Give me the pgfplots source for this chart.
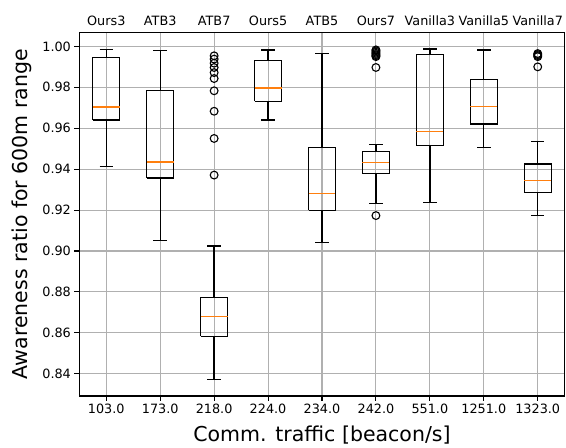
\documentclass[border=0pt]{standalone}
\usepackage{pgfplots}
\pgfplotsset{compat=1.18}
\usepackage{fontspec}
\setmainfont{DejaVu Sans}
\definecolor{mplorange}{RGB}{255,127,14}
\definecolor{gridgray}{RGB}{176,176,176}
\pgfplotsset{
  boxline/.style={black, solid, line width=1.3pt, mark=none, line join=miter},
  medline/.style={mplorange, solid, line width=1.5pt, mark=none},
  flier/.style={only marks, mark=o, mark size=3.9pt,
    mark options={black, solid, line width=1.1pt, fill=none}},
}
\begin{document}
\begin{tikzpicture}
\begin{axis}[
  name=main,
  width=485.4pt, height=363.7pt, scale only axis,
  xmin=0.5, xmax=9.5, ymin=0.8291, ymax=1.0069,
  unbounded coords=jump,
  xtick={1,2,3,4,5,6,7,8,9},
  xticklabels={103.0,173.0,218.0,224.0,234.0,242.0,551.0,1251.0,1323.0},
  ytick={0.84,0.86,0.88,0.90,0.92,0.94,0.96,0.98,1.00},
  yticklabel style={/pgf/number format/.cd, fixed, fixed zerofill, precision=2},
  /pgf/number format/assume math mode=true,
  tick label style={font=\fontsize{12.8}{15}\selectfont, text=black},
  label style={font=\fontsize{20.5}{24}\selectfont},
  xlabel={Comm. traffic [beacon/s]},
  ylabel={Awareness ratio for 600m range},
  xlabel shift=5pt,
  ylabel shift=4pt,
  grid=major, grid style={gridgray, line width=1.1pt},
  tick align=outside, major tick length=4.9pt,
  xtick pos=bottom, ytick pos=left,
  tick style={black, line width=1.1pt},
  axis line style={line width=1.1pt},
  clip=false,
]
% Ours3
\addplot[boxline] coordinates {(0.75,0.9640) (1.25,0.9640) (1.25,0.9946) (0.75,0.9946) (0.75,0.9640) (1,nan) (1,0.9946) (1,0.9985) (1,nan) (0.875,0.9985) (1.125,0.9985) (1,nan) (1,0.9640) (1,0.9413) (1,nan) (0.875,0.9413) (1.125,0.9413)};
\addplot[medline] coordinates {(0.75,0.9704) (1.25,0.9704)};
% ATB3
\addplot[boxline] coordinates {(1.75,0.9356) (2.25,0.9356) (2.25,0.9786) (1.75,0.9786) (1.75,0.9356) (2,nan) (2,0.9786) (2,0.9979) (2,nan) (1.875,0.9979) (2.125,0.9979) (2,nan) (2,0.9356) (2,0.9052) (2,nan) (1.875,0.9052) (2.125,0.9052)};
\addplot[medline] coordinates {(1.75,0.9436) (2.25,0.9436)};
% ATB7
\addplot[boxline] coordinates {(2.75,0.8583) (3.25,0.8583) (3.25,0.8771) (2.75,0.8771) (2.75,0.8583) (3,nan) (3,0.8771) (3,0.9024) (3,nan) (2.875,0.9024) (3.125,0.9024) (3,nan) (3,0.8583) (3,0.8371) (3,nan) (2.875,0.8371) (3.125,0.8371)};
\addplot[medline] coordinates {(2.75,0.8679) (3.25,0.8679)};
\addplot[flier] coordinates {(3,0.9371) (3,0.9550) (3,0.9683) (3,0.9783) (3,0.9843) (3,0.9872) (3,0.9897) (3,0.9918) (3,0.9938) (3,0.9954)};
% Ours5
\addplot[boxline] coordinates {(3.75,0.9732) (4.25,0.9732) (4.25,0.9930) (3.75,0.9930) (3.75,0.9732) (4,nan) (4,0.9930) (4,0.9983) (4,nan) (3.875,0.9983) (4.125,0.9983) (4,nan) (4,0.9732) (4,0.9640) (4,nan) (3.875,0.9640) (4.125,0.9640)};
\addplot[medline] coordinates {(3.75,0.9796) (4.25,0.9796)};
% ATB5
\addplot[boxline] coordinates {(4.75,0.9198) (5.25,0.9198) (5.25,0.9506) (4.75,0.9506) (4.75,0.9198) (5,nan) (5,0.9506) (5,0.9967) (5,nan) (4.875,0.9967) (5.125,0.9967) (5,nan) (5,0.9198) (5,0.9041) (5,nan) (4.875,0.9041) (5.125,0.9041)};
\addplot[medline] coordinates {(4.75,0.9281) (5.25,0.9281)};
% Ours7
\addplot[boxline] coordinates {(5.75,0.9377) (6.25,0.9377) (6.25,0.9487) (5.75,0.9487) (5.75,0.9377) (6,nan) (6,0.9487) (6,0.9521) (6,nan) (5.875,0.9521) (6.125,0.9521) (6,nan) (6,0.9377) (6,0.9233) (6,nan) (5.875,0.9233) (6.125,0.9233)};
\addplot[medline] coordinates {(5.75,0.9433) (6.25,0.9433)};
\addplot[flier] coordinates {(6,0.9173) (6,0.9897) (6,0.9950) (6,0.9955) (6,0.9960) (6,0.9966) (6,0.9972) (6,0.9978) (6,0.9983)};
% Vanilla3
\addplot[boxline] coordinates {(6.75,0.9515) (7.25,0.9515) (7.25,0.9961) (6.75,0.9961) (6.75,0.9515) (7,nan) (7,0.9961) (7,0.9987) (7,nan) (6.875,0.9987) (7.125,0.9987) (7,nan) (7,0.9515) (7,0.9237) (7,nan) (6.875,0.9237) (7.125,0.9237)};
\addplot[medline] coordinates {(6.75,0.9583) (7.25,0.9583)};
% Vanilla5
\addplot[boxline] coordinates {(7.75,0.9621) (8.25,0.9621) (8.25,0.9837) (7.75,0.9837) (7.75,0.9621) (8,nan) (8,0.9837) (8,0.9982) (8,nan) (7.875,0.9982) (8.125,0.9982) (8,nan) (8,0.9621) (8,0.9505) (8,nan) (7.875,0.9505) (8.125,0.9505)};
\addplot[medline] coordinates {(7.75,0.9707) (8.25,0.9707)};
% Vanilla7
\addplot[boxline] coordinates {(8.75,0.9287) (9.25,0.9287) (9.25,0.9425) (8.75,0.9425) (8.75,0.9287) (9,nan) (9,0.9425) (9,0.9534) (9,nan) (8.875,0.9534) (9.125,0.9534) (9,nan) (9,0.9287) (9,0.9175) (9,nan) (8.875,0.9175) (9.125,0.9175)};
\addplot[medline] coordinates {(8.75,0.9345) (9.25,0.9345)};
\addplot[flier] coordinates {(9,0.9900) (9,0.9950) (9,0.9955) (9,0.9960) (9,0.9965)};
\end{axis}
\begin{axis}[
  width=485.4pt, height=363.7pt, scale only axis,
  xmin=0.5, xmax=9.5, ymin=0.8291, ymax=1.0069,
  axis x line*=top, axis y line=none,
  axis line style={line width=1.1pt},
  xtick={1,2,3,4,5,6,7,8,9},
  xticklabels={Ours3,ATB3,ATB7,Ours5,ATB5,Ours7,Vanilla3,Vanilla5,Vanilla7},
  major tick length=0pt,
  xticklabel shift=3.5pt,
  tick label style={font=\fontsize{12.8}{15}\selectfont, text=black},
]
\addplot[draw=none] coordinates {(1,0.9)};
\end{axis}
\pgfresetboundingbox
\path[use as bounding box] ([xshift=-79.3pt,yshift=-52pt]main.south west) rectangle ([xshift=1.3pt,yshift=32.3pt]main.north east);
\end{tikzpicture}
\end{document}
